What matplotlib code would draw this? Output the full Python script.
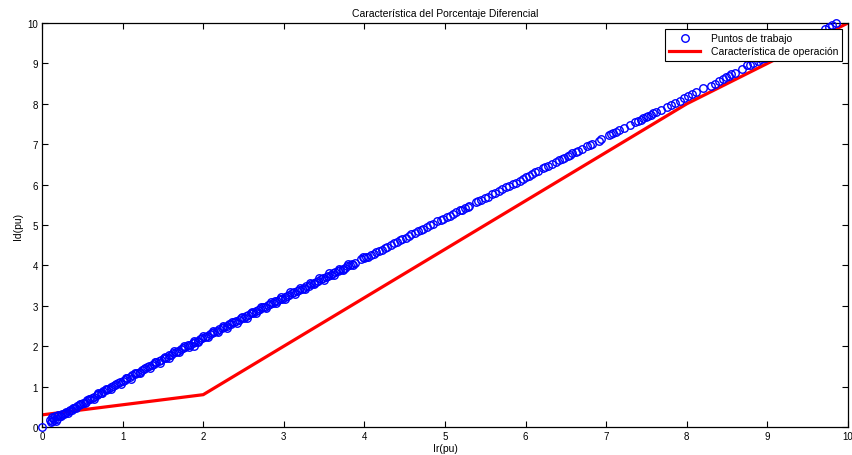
import matplotlib
matplotlib.use("Agg")
import matplotlib.pyplot as plt

plt.rcParams['font.family'] = ['Liberation Sans Narrow', 'Liberation Sans', 'DejaVu Sans']

# Operating characteristic (red)
char_x = [0, 2, 8, 10]
char_y = [0.3, 0.8, 8, 10]

# Working points (blue)
pts_x = [0.00, 0.10, 0.12, 0.14, 0.15, 0.16, 0.18, 0.20, 0.22, 0.25, 0.27, 0.30, 0.33, 0.35, 0.38, 0.40,
         0.43, 0.46, 0.48, 0.51, 0.54, 0.56, 0.59, 0.62, 0.65, 0.68, 0.70, 0.73, 0.76, 0.79, 0.82, 0.85,
         0.88, 0.91, 0.94, 0.97, 1.00, 1.03, 1.06, 1.09, 1.12, 1.15, 1.18, 1.21, 1.24, 1.27, 1.30, 1.33,
         1.36, 1.39, 1.42, 1.45, 1.48, 1.51, 1.54, 1.57, 1.60, 1.63, 1.66, 1.69, 1.72, 1.75, 1.78, 1.81,
         1.84, 1.87, 1.89, 1.90, 1.93, 1.96, 1.99,
         2.02, 2.05, 2.08, 2.11, 2.14, 2.17, 2.20, 2.23, 2.26, 2.29, 2.32, 2.35, 2.38, 2.41, 2.44, 2.47,
         2.50, 2.53, 2.56, 2.59, 2.62, 2.65, 2.68, 2.71, 2.74, 2.77, 2.80, 2.83, 2.86, 2.89, 2.92, 2.95,
         2.98, 3.01, 3.04, 3.07, 3.10, 3.13, 3.16, 3.19, 3.22, 3.25, 3.28, 3.31, 3.34, 3.37, 3.40, 3.43,
         3.46, 3.49, 3.52, 3.55, 3.58, 3.61, 3.64, 3.67, 3.70, 3.73, 3.76, 3.79, 3.82, 3.85, 3.88,
         3.96, 3.98, 4.00, 4.02, 4.04, 4.08, 4.12, 4.15, 4.18, 4.22, 4.26, 4.28, 4.33, 4.37, 4.40, 4.44,
         4.47, 4.51, 4.55, 4.58, 4.63, 4.66, 4.70, 4.73, 4.78, 4.82, 4.85, 4.90, 4.95, 4.98, 5.02, 5.06,
         5.10, 5.14, 5.18, 5.21, 5.25, 5.28, 5.30,
         5.38, 5.41, 5.45, 5.50, 5.53, 5.58, 5.62, 5.67, 5.71, 5.76, 5.80, 5.84, 5.88, 5.93, 5.97, 6.00,
         6.04, 6.08, 6.12, 6.16, 6.21, 6.24, 6.28, 6.33, 6.38, 6.42, 6.45, 6.48, 6.52, 6.55, 6.58, 6.62,
         6.65, 6.70, 6.76, 6.80, 6.83, 6.91, 6.93,
         7.03, 7.06, 7.09, 7.12, 7.16, 7.22, 7.30, 7.36, 7.40, 7.43, 7.46, 7.49, 7.52, 7.55, 7.58, 7.62,
         7.68, 7.75, 7.80, 7.85, 7.92, 7.97, 8.02, 8.06, 8.12, 8.20, 8.30, 8.35, 8.40, 8.45, 8.49, 8.52,
         8.55, 8.60, 8.68, 8.75, 8.78, 8.82, 8.88, 8.92, 8.97, 9.02, 9.06, 9.10, 9.15, 9.25, 9.40, 9.55,
         9.72, 9.76, 9.80, 9.85,
         0.11, 0.13, 0.17, 0.19, 0.24, 0.29, 0.32, 0.37, 0.42, 0.47, 0.53, 0.58, 0.64, 0.69, 0.75, 0.80,
         0.86, 0.92, 0.98, 1.04, 1.10, 1.16, 1.22, 1.28, 1.34, 1.40, 1.46, 1.52, 1.58, 1.64, 1.70, 1.76,
         1.82, 1.88, 1.94, 2.00, 2.06, 2.12, 2.18, 2.24, 2.30, 2.36, 2.42, 2.48, 2.54, 2.60, 2.66, 2.72,
         2.78, 2.84, 2.90, 2.96, 3.02, 3.08, 3.14, 3.20, 3.26, 3.32, 3.38, 3.44, 3.50, 3.56, 3.62, 3.68,
         3.74, 3.80, 3.86]
pts_y = [0.00, 0.18, 0.15, 0.22, 0.17, 0.26, 0.20, 0.30, 0.27, 0.33, 0.31, 0.38, 0.40, 0.42, 0.46, 0.47,
         0.52, 0.54, 0.58, 0.60, 0.63, 0.67, 0.69, 0.73, 0.75, 0.80, 0.81, 0.85, 0.88, 0.92, 0.94, 0.99,
         1.01, 1.05, 1.08, 1.11, 1.15, 1.17, 1.22, 1.24, 1.28, 1.31, 1.34, 1.37, 1.41, 1.43, 1.48, 1.50,
         1.54, 1.57, 1.60, 1.63, 1.67, 1.70, 1.72, 1.77, 1.79, 1.83, 1.86, 1.89, 1.92, 1.96, 1.98, 2.02,
         2.04, 2.08, 2.00, 2.11, 2.14, 2.17, 2.20,
         2.24, 2.25, 2.30, 2.32, 2.36, 2.38, 2.42, 2.44, 2.48, 2.50, 2.54, 2.56, 2.59, 2.62, 2.65, 2.69,
         2.70, 2.75, 2.76, 2.81, 2.83, 2.86, 2.90, 2.91, 2.96, 2.97, 3.02, 3.04, 3.06, 3.11, 3.12, 3.16,
         3.18, 3.22, 3.25, 3.27, 3.31, 3.33, 3.37, 3.39, 3.42, 3.45, 3.49, 3.50, 3.55, 3.56, 3.60, 3.62,
         3.66, 3.68, 3.71, 3.74, 3.77, 3.80, 3.83, 3.86, 3.88, 3.92, 3.94, 3.98, 4.00, 4.04, 4.05,
         4.17, 4.20, 4.18, 4.22, 4.21, 4.26, 4.29, 4.33, 4.36, 4.39, 4.44, 4.46, 4.51, 4.56, 4.58, 4.62,
         4.66, 4.69, 4.72, 4.77, 4.81, 4.84, 4.88, 4.91, 4.95, 5.00, 5.02, 5.09, 5.12, 5.16, 5.20, 5.23,
         5.27, 5.31, 5.36, 5.38, 5.43, 5.45, 5.47,
         5.58, 5.60, 5.63, 5.66, 5.70, 5.76, 5.80, 5.84, 5.89, 5.93, 5.97, 6.02, 6.05, 6.10, 6.14, 6.18,
         6.22, 6.27, 6.30, 6.34, 6.40, 6.43, 6.46, 6.52, 6.57, 6.61, 6.63, 6.67, 6.71, 6.74, 6.78, 6.80,
         6.83, 6.88, 6.95, 6.99, 7.01, 7.08, 7.12,
         7.22, 7.25, 7.28, 7.30, 7.34, 7.41, 7.48, 7.56, 7.58, 7.61, 7.65, 7.68, 7.70, 7.73, 7.77, 7.80,
         7.85, 7.93, 7.98, 8.02, 8.08, 8.14, 8.20, 8.24, 8.28, 8.38, 8.45, 8.50, 8.56, 8.62, 8.66, 8.70,
         8.73, 8.77, 8.87, 8.95, 8.97, 9.00, 9.06, 9.10, 9.14, 9.20, 9.25, 9.28, 9.32, 9.42, 9.58, 9.72,
         9.85, 9.90, 9.95, 10.00,
         0.12, 0.25, 0.14, 0.28, 0.26, 0.35, 0.34, 0.43, 0.46, 0.57, 0.59, 0.70, 0.70, 0.83, 0.83, 0.95,
         0.94, 1.07, 1.07, 1.21, 1.19, 1.34, 1.33, 1.46, 1.46, 1.60, 1.59, 1.74, 1.72, 1.87, 1.85, 2.00,
         1.98, 2.12, 2.10, 2.25, 2.22, 2.37, 2.34, 2.49, 2.46, 2.61, 2.58, 2.73, 2.70, 2.85, 2.82, 2.96,
         2.94, 3.09, 3.06, 3.21, 3.18, 3.33, 3.30, 3.44, 3.42, 3.56, 3.54, 3.68, 3.65, 3.80, 3.77, 3.91,
         3.89, 4.03, 4.01]

x_ticks = [0, 1, 2, 3, 4, 5, 6, 7, 8, 9, 10]
y_ticks = [0, 1, 2, 3, 4, 5, 6, 7, 8, 9, 10]

fig = plt.figure(figsize=(8.53, 4.56), dpi=100)
ax = fig.add_axes([42 / 853, 28 / 456, 806 / 853, 404 / 456])

ax.plot(pts_x, pts_y, 'o', linestyle='none', markerfacecolor='none', markeredgecolor='#0000ff',
        markersize=5.4, markeredgewidth=1.0, label='Puntos de trabajo', zorder=3, clip_on=False)
ax.plot(char_x, char_y, '-', color='#ff0000', linewidth=2.3, label='Característica de operación', zorder=2)

ax.set_xlim(0, 10)
ax.set_ylim(0, 10)
ax.set_xticks(x_ticks)
ax.set_yticks(y_ticks)
ax.tick_params(direction='in', length=4, width=0.8, top=True, right=True, labelsize=7, pad=3)
for s in ax.spines.values():
    s.set_linewidth(0.9)

ax.set_title('Característica del Porcentaje Diferencial', fontsize=7.5, pad=5)
ax.set_xlabel('Ir(pu)', fontsize=7.5, labelpad=1)
ax.set_ylabel('Id(pu)', fontsize=7.5, labelpad=3)

leg = ax.legend(loc='upper right', bbox_to_anchor=(0.993, 0.985), borderaxespad=0, fontsize=7.5,
                fancybox=False, frameon=True, framealpha=1, handlelength=3.0, handletextpad=1.0,
                borderpad=0.4, labelspacing=0.3)
leg.get_frame().set_edgecolor('black')
leg.get_frame().set_linewidth(0.8)
leg.set_zorder(5)

fig.savefig('out.png', dpi=100)
